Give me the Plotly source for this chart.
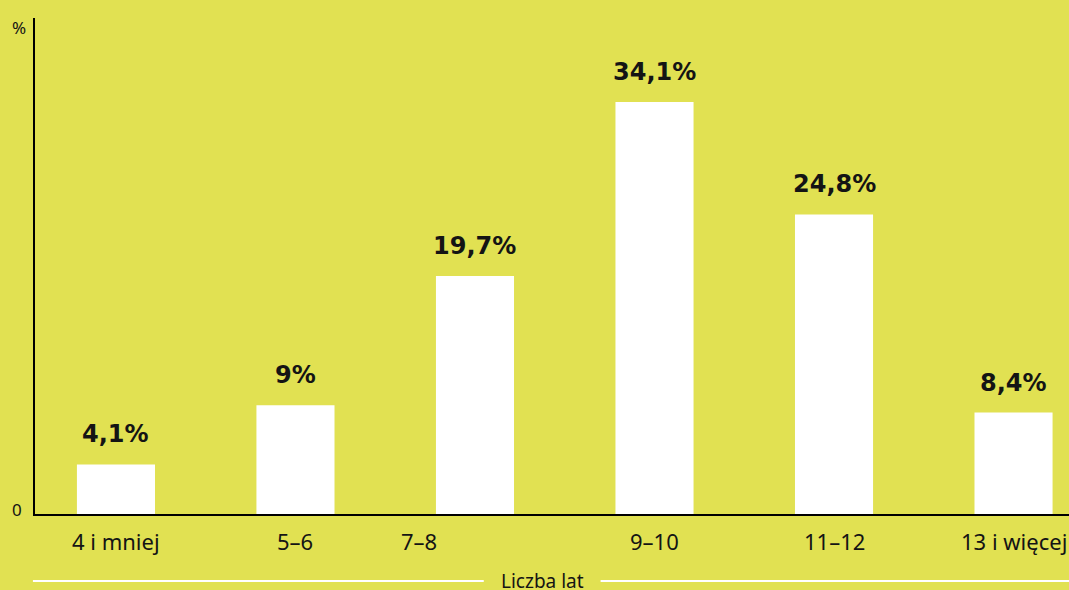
import plotly.graph_objects as go

categories = ["4 i mniej", "5–6", "7–8", "9–10", "11–12", "13 i więcej"]
values = [4.1, 9.0, 19.7, 34.1, 24.8, 8.4]
label_pos = [0, 1, 1.69, 3, 4, 5.0]
axis_title = "Liczba lat"

BG = "#e1e152"
INK = "#141414"
REG = "Noto Sans"
BOLD = "DejaVu Sans"

xs = list(range(len(categories)))
fig = go.Figure(go.Bar(x=xs, y=values, width=0.435, marker=dict(color="white", line=dict(width=0)),
                       hoverinfo="skip"))

annotations = []
for x, v in zip(xs, values):
    txt = f"{v:g}".replace(".", ",") + "%"
    annotations.append(dict(x=x, y=v, xref="x", yref="y", text=txt, showarrow=False,
                            yanchor="bottom", yshift=14,
                            font=dict(family=BOLD, size=24, color=INK, weight="bold")))
for p, c in zip(label_pos, categories):
    annotations.append(dict(x=p, y=0, xref="x", yref="y", text=c, showarrow=False,
                            yanchor="middle", yshift=-27,
                            font=dict(family=REG, size=22, color=INK)))
annotations += [
    dict(x=-0.0155, y=0.98, xref="paper", yref="paper", text="%", showarrow=False,
         xanchor="center", yanchor="middle", font=dict(family=REG, size=17, color=INK)),
    dict(x=-0.0175, y=0.01, xref="paper", yref="paper", text="0", showarrow=False,
         xanchor="center", yanchor="middle", font=dict(family=REG, size=17, color=INK)),
    dict(x=0.491, y=-0.135, xref="paper", yref="paper", text=axis_title, showarrow=False,
         xanchor="center", yanchor="middle", font=dict(family=REG, size=19, color=INK)),
]

shapes = [
    dict(type="line", xref="paper", yref="paper", x0=-0.002, x1=0.434, y0=-0.135, y1=-0.135,
         line=dict(color="white", width=2)),
    dict(type="line", xref="paper", yref="paper", x0=0.547, x1=1.0, y0=-0.135, y1=-0.135,
         line=dict(color="white", width=2)),
]

fig.update_layout(
    width=1069, height=590,
    margin=dict(l=35, r=0, t=18, b=76),
    paper_bgcolor=BG, plot_bgcolor=BG,
    showlegend=False,
    annotations=annotations,
    shapes=shapes,
    xaxis=dict(range=[-0.451, 5.309], showticklabels=False, showgrid=False, zeroline=False,
               showline=True, linecolor="black", linewidth=2, fixedrange=True),
    yaxis=dict(range=[0, 41.06], showticklabels=False, showgrid=False, zeroline=False,
               showline=True, linecolor="black", linewidth=2, fixedrange=True),
)

fig.write_html("out.html", config={"displayModeBar": False},
               post_script="document.body.style.margin='0';document.body.style.overflow='hidden';document.body.style.background='" + BG + "';")
